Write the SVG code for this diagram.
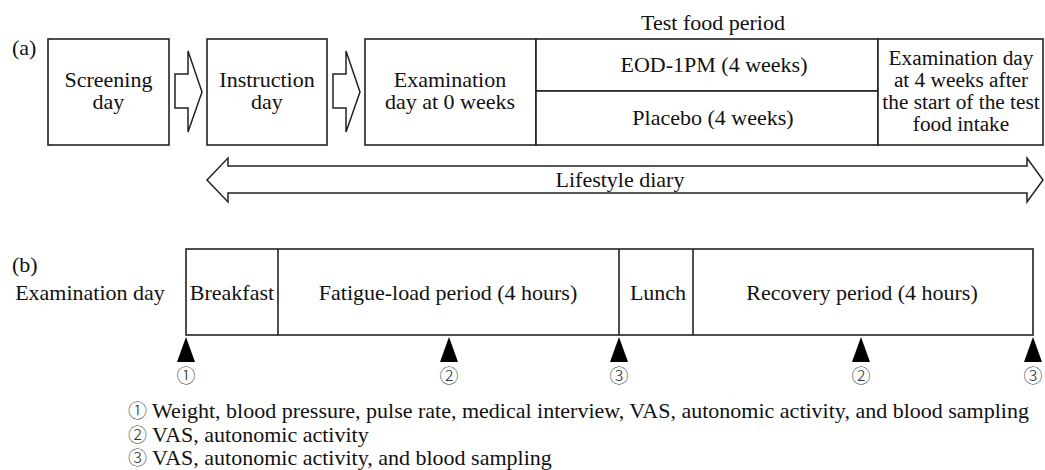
<svg xmlns="http://www.w3.org/2000/svg" width="1045" height="470" viewBox="0 0 1045 470">
<style>
  text { font-family: "Liberation Serif", Tinos, "DejaVu Serif", "Noto Serif", serif; font-size: 22px; fill: #111; }
  .c { text-anchor: middle; }
  .box { fill: #fff; stroke: #222; stroke-width: 1.6; }
  .ln { fill: none; stroke: #222; stroke-width: 1.6; }
  .arr { fill: #fff; stroke: #222; stroke-width: 1.5; stroke-linejoin: miter; }
  .tri { fill: #000; }
  .num { font-family: "Noto Sans CJK JP", "DejaVu Sans", sans-serif; font-size: 19px; font-weight: 300; fill: #333; }
  .sm { font-size: 21.3px; }
</style>

<!-- (a) -->
<text x="12" y="55">(a)</text>
<text x="713" y="30" class="c">Test food period</text>

<g id="screening">
  <rect class="box" x="48" y="39" width="121" height="106"/>
  <text x="108.5" y="87" class="c">Screening</text>
  <text x="108.5" y="109" class="c">day</text>
</g>
<g id="instruction">
  <rect class="box" x="207" y="39" width="120" height="106"/>
  <text x="267" y="87" class="c">Instruction</text>
  <text x="267" y="109" class="c">day</text>
</g>
<g id="exam0">
  <rect class="box" x="365" y="39" width="171" height="106"/>
  <text x="450" y="87" class="c">Examination</text>
  <text x="450" y="109" class="c">day at 0 weeks</text>
</g>
<g id="eod">
  <rect class="box" x="536" y="39" width="342" height="52"/>
  <text x="714" y="72" class="c">EOD-1PM (4 weeks)</text>
</g>
<g id="placebo">
  <rect class="box" x="536" y="91" width="342" height="54"/>
  <text x="713" y="125" class="c">Placebo (4 weeks)</text>
</g>
<g id="exam4">
  <rect class="box" x="878" y="39" width="165" height="106"/>
  <text x="961" y="65" class="c sm">Examination day</text>
  <text x="961" y="87" class="c sm">at 4 weeks after</text>
  <text x="961" y="109" class="c sm">the start of the test</text>
  <text x="961" y="131" class="c sm">food intake</text>
</g>

<g id="connectors">
  <polygon class="arr" points="175,74 188,74 188,51 202,92 188,132 188,108 175,108"/>
  <polygon class="arr" points="333,74 346,74 346,51 360,92 346,132 346,108 333,108"/>
  <polygon class="arr" points="207,180 228,158 228,166 1027,166 1027,158 1043,180 1027,202 1027,193 228,193 228,202"/>
</g>
<text x="620" y="187" class="c" id="lifestyle">Lifestyle diary</text>

<!-- (b) -->
<text x="12" y="272">(b)</text>
<text x="90" y="300" class="c" font-size="21.5">Examination day</text>

<g id="timeline">
  <rect class="box" x="186" y="249" width="847" height="86"/>
  <line class="ln" x1="278" y1="249" x2="278" y2="335"/>
  <line class="ln" x1="619" y1="249" x2="619" y2="335"/>
  <line class="ln" x1="693" y1="249" x2="693" y2="335"/>
  <text x="232" y="300" class="c" font-size="21">Breakfast</text>
  <text x="448" y="300" class="c">Fatigue-load period (4 hours)</text>
  <text x="658" y="300" class="c">Lunch</text>
  <text x="862" y="300" class="c">Recovery period (4 hours)</text>
</g>

<g id="markers">
  <polygon class="tri" points="186,337 195,362 177,362"/>
  <polygon class="tri" points="449,337 458,362 440,362"/>
  <polygon class="tri" points="619,337 628,362 610,362"/>
  <polygon class="tri" points="861,337 870,362 852,362"/>
  <polygon class="tri" points="1033,337 1042,362 1024,362"/>
  <text x="186" y="383" class="c num">①</text>
  <text x="449" y="383" class="c num">②</text>
  <text x="619" y="383" class="c num">③</text>
  <text x="861" y="383" class="c num">②</text>
  <text x="1033" y="383" class="c num">③</text>
</g>

<g id="legend">
  <text x="128" y="418"><tspan class="num" font-size="20">①</tspan> Weight, blood pressure, pulse rate, medical interview, VAS, autonomic activity, and blood sampling</text>
  <text x="128" y="442"><tspan class="num" font-size="20">②</tspan> VAS, autonomic activity</text>
  <text x="128" y="465"><tspan class="num" font-size="20">③</tspan> VAS, autonomic activity, and blood sampling</text>
</g>
</svg>
